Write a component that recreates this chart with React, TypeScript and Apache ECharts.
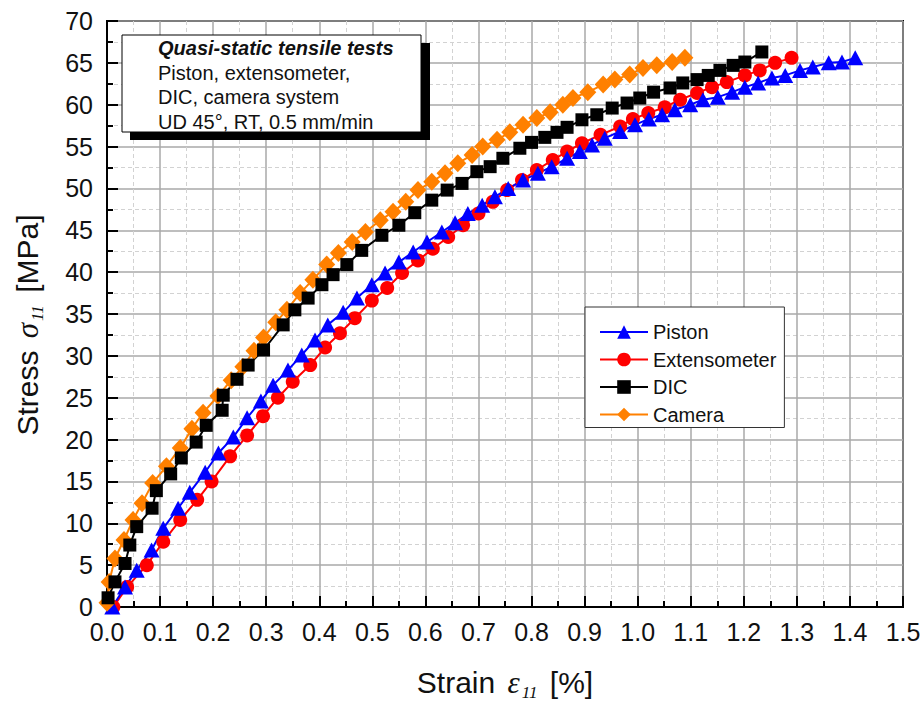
import React, { useEffect, useRef } from "react";
import * as echarts from "echarts";

const FONT = '"Liberation Sans", Arial, sans-serif';
const SERIF = '"Liberation Serif", "Times New Roman", serif';

const xTicks = { min: 0, max: 1.5, interval: 0.1 };
const yTicks = { min: 0, max: 70, interval: 5 };

const legendNames = ["Piston", "Extensometer", "DIC", "Camera"];

const pistonData: [number, number][] = [
  [0.01, 0], [0.034, 2.4], [0.056, 4.4], [0.084, 6.8], [0.106, 9.4], [0.134, 11.8],
  [0.156, 13.7], [0.185, 16.1], [0.21, 18.4], [0.238, 20.3], [0.264, 22.6], [0.29, 24.6],
  [0.313, 26.5], [0.341, 28.3], [0.367, 30.1], [0.392, 31.9], [0.416, 33.7], [0.445, 35.2],
  [0.471, 36.9], [0.499, 38.5], [0.524, 39.9], [0.55, 41.2], [0.577, 42.4], [0.603, 43.6],
  [0.631, 44.8], [0.656, 45.9], [0.68, 47.0], [0.707, 48.0], [0.731, 49.0], [0.756, 50.0],
  [0.784, 51.0], [0.812, 51.8], [0.838, 52.6], [0.867, 53.6], [0.891, 54.4], [0.914, 55.2],
  [0.938, 56.0], [0.967, 56.8], [0.995, 57.6], [1.021, 58.3], [1.046, 58.8], [1.07, 59.4],
  [1.099, 60.0], [1.123, 60.6], [1.151, 60.9], [1.178, 61.5], [1.202, 62.1], [1.227, 62.6],
  [1.253, 63.2], [1.278, 63.5], [1.306, 64.1], [1.33, 64.5], [1.36, 65.0], [1.385, 65.1],
  [1.41, 65.6],
];

const extensometerData: [number, number][] = [
  [0.012, 0], [0.038, 2.4], [0.075, 5.0], [0.106, 7.8], [0.138, 10.4], [0.17, 12.8],
  [0.197, 15.0], [0.232, 18.0], [0.264, 20.5], [0.294, 22.8], [0.322, 25.0], [0.35, 26.9],
  [0.383, 28.9], [0.411, 31.0], [0.439, 32.7], [0.467, 34.5], [0.499, 36.6], [0.528, 38.1],
  [0.556, 39.9], [0.586, 41.4], [0.614, 42.8], [0.643, 44.2], [0.671, 45.6], [0.7, 47.0],
  [0.727, 48.4], [0.754, 49.8], [0.782, 51.0], [0.81, 52.2], [0.84, 53.4], [0.867, 54.4],
  [0.895, 55.4], [0.93, 56.4], [0.967, 57.4], [0.991, 58.3], [1.02, 59.0], [1.051, 59.7],
  [1.08, 60.6], [1.112, 61.4], [1.14, 62.1], [1.168, 62.7], [1.202, 63.5], [1.23, 64.1],
  [1.259, 65.0], [1.29, 65.6],
];

const dicData: [number, number][] = [
  [0.002, 1.1], [0.015, 3.0], [0.034, 5.2], [0.043, 7.4], [0.056, 9.6], [0.085, 11.8],
  [0.093, 13.9], [0.12, 15.9], [0.14, 17.8], [0.168, 19.7], [0.187, 21.7], [0.217, 23.5],
  [0.219, 25.3], [0.245, 27.2], [0.266, 28.9], [0.295, 30.7], [0.332, 33.7], [0.354, 35.5],
  [0.379, 36.9], [0.405, 38.5], [0.426, 39.7], [0.452, 40.9], [0.48, 42.6], [0.518, 44.4],
  [0.55, 45.6], [0.58, 47.1], [0.612, 48.6], [0.641, 49.8], [0.669, 50.6], [0.697, 52.0],
  [0.722, 52.6], [0.746, 53.6], [0.778, 54.8], [0.8, 55.5], [0.825, 56.1], [0.848, 56.7],
  [0.867, 57.3], [0.895, 58.2], [0.923, 58.8], [0.952, 59.6], [0.98, 60.2], [1.004, 60.8],
  [1.03, 61.5], [1.061, 62.0], [1.085, 62.6], [1.112, 63.0], [1.133, 63.5], [1.155, 64.1],
  [1.18, 64.7], [1.202, 65.1], [1.234, 66.3],
];

const cameraData: [number, number][] = [
  [0.0, 0.5], [0.004, 3.0], [0.015, 5.8], [0.032, 8.0], [0.049, 10.4], [0.066, 12.4],
  [0.086, 14.8], [0.112, 16.8], [0.138, 19.0], [0.16, 21.3], [0.181, 23.2], [0.209, 25.2],
  [0.234, 27.1], [0.256, 28.7], [0.277, 30.6], [0.295, 32.2], [0.318, 34.0], [0.339, 35.5],
  [0.364, 37.5], [0.388, 39.1], [0.414, 40.9], [0.436, 42.3], [0.462, 43.6], [0.487, 44.8],
  [0.515, 46.2], [0.539, 47.2], [0.563, 48.4], [0.586, 49.8], [0.612, 50.8], [0.637, 51.8],
  [0.661, 53.0], [0.688, 54.0], [0.708, 55.0], [0.735, 55.8], [0.759, 56.7], [0.784, 57.6],
  [0.81, 58.4], [0.835, 59.1], [0.859, 60.0], [0.878, 60.8], [0.906, 61.5], [0.935, 62.4],
  [0.957, 63.0], [0.985, 63.6], [1.01, 64.4], [1.036, 64.7], [1.065, 65.1], [1.089, 65.6],
];

const noteLines = [
  "Quasi-static tensile tests",
  "Piston, extensometer,",
  "DIC, camera system",
  "UD 45°, RT, 0.5 mm/min",
];

function makeSeries(name: string, data: [number, number][], color: string, symbol: string, symbolSize: any) {
  return {
    name,
    type: "line",
    data,
    symbol,
    symbolSize,
    showAllSymbol: true,
    lineStyle: { color, width: 2 },
    itemStyle: { color },
    emphasis: { disabled: true },
  };
}

const axisNameRich = {
  t: { fontSize: 30, fontFamily: FONT, color: "#111" },
  e: { fontSize: 30, fontFamily: FONT, color: "#111", padding: [0, 22, 0, 0] },
  g: { fontSize: 31, fontFamily: SERIF, fontStyle: "italic", color: "#111", padding: [0, 0, 0, 4] },
  s: {
    fontSize: 17,
    fontFamily: SERIF,
    fontStyle: "italic",
    color: "#111",
    verticalAlign: "bottom",
    padding: [20, 4, 0, 2],
  },
};

export default function App() {
  const ref = useRef<HTMLDivElement>(null);

  useEffect(() => {
    if (!ref.current) return;
    const chart = echarts.init(ref.current, undefined, { renderer: "svg" });

    const axisCommon = {
      axisLine: { show: true, lineStyle: { color: "#000", width: 2 } },
      axisTick: { show: true, inside: true, length: 11, lineStyle: { color: "#000", width: 2 } },
      minorTick: { show: true, splitNumber: 2, length: 6, lineStyle: { color: "#000", width: 2 } },
      splitLine: { show: true, lineStyle: { color: "#a9a9a9", width: 1.5 } },
      minorSplitLine: { show: true, lineStyle: { color: "#d2d2d2", width: 1, type: [4, 3] } },
    };

    const option: any = {
      animation: false,
      backgroundColor: "#ffffff",
      grid: {
        left: 107,
        right: 19,
        top: 21,
        bottom: 95,
        show: true,
        borderColor: "#000",
        borderWidth: 2,
        backgroundColor: "transparent",
        containLabel: false,
        outerBoundsMode: "none",
      },
      xAxis: {
        type: "value",
        min: xTicks.min,
        max: xTicks.max,
        interval: xTicks.interval,
        ...axisCommon,
        axisLabel: {
          fontSize: 25,
          fontFamily: FONT,
          color: "#111",
          margin: 12,
          formatter: (v: number) => v.toFixed(1),
        },
        name: "{t|Strain }{g|ε}{s|11}{t| [%]}",
        nameLocation: "middle",
        nameGap: 57,
        nameTextStyle: { rich: axisNameRich },
      },
      yAxis: {
        type: "value",
        min: yTicks.min,
        max: yTicks.max,
        interval: yTicks.interval,
        ...axisCommon,
        axisLabel: {
          fontSize: 25,
          fontFamily: FONT,
          color: "#111",
          margin: 14,
        },
        name: "{t|Stress }{g|σ}{s|11}{e| [MPa]}",
        nameLocation: "middle",
        nameRotate: 90,
        nameGap: 61,
        nameTextStyle: { rich: axisNameRich },
      },
      legend: {
        data: legendNames,
        orient: "vertical",
        left: 585,
        top: 307,
        itemWidth: 48,
        itemHeight: 17,
        itemGap: 7.5,
        padding: [15, 8, 3, 14],
        borderColor: "#333",
        borderWidth: 1,
        borderRadius: 0,
        backgroundColor: "#ffffff",
        textStyle: { fontSize: 20, fontFamily: FONT, color: "#111" },
        selectedMode: false,
      },
      series: [
        makeSeries("Extensometer", extensometerData, "#ff0000", "circle", 14),
        makeSeries("Piston", pistonData, "#0000ff", "triangle", [16, 15]),
        makeSeries("Camera", cameraData, "#ff8000", "diamond", [17, 18]),
        makeSeries("DIC", dicData, "#000000", "rect", 13),
      ],
      graphic: [
        { type: "rect", z: 100, shape: { x: 130, y: 43, width: 300, height: 97 }, style: { fill: "#000" } },
        {
          type: "rect",
          z: 101,
          shape: { x: 122, y: 35, width: 299, height: 97 },
          style: { fill: "#fff", stroke: "#000", lineWidth: 1 },
        },
        ...noteLines.map((t, i) => ({
          type: "text",
          z: 102,
          x: 158,
          y: 48 + i * 24.7,
          style: {
            text: t,
            fontSize: 20,
            fontFamily: FONT,
            fontWeight: i === 0 ? "bold" : "normal",
            fontStyle: i === 0 ? "italic" : "normal",
            fill: "#111",
            verticalAlign: "middle",
          },
        })),
      ],
    };

    chart.setOption(option);
    return () => chart.dispose();
  }, []);

  return (
    <div
      ref={ref}
      style={{ position: "fixed", left: 0, top: 0, width: 922, height: 702, background: "#fff" }}
    />
  );
}
